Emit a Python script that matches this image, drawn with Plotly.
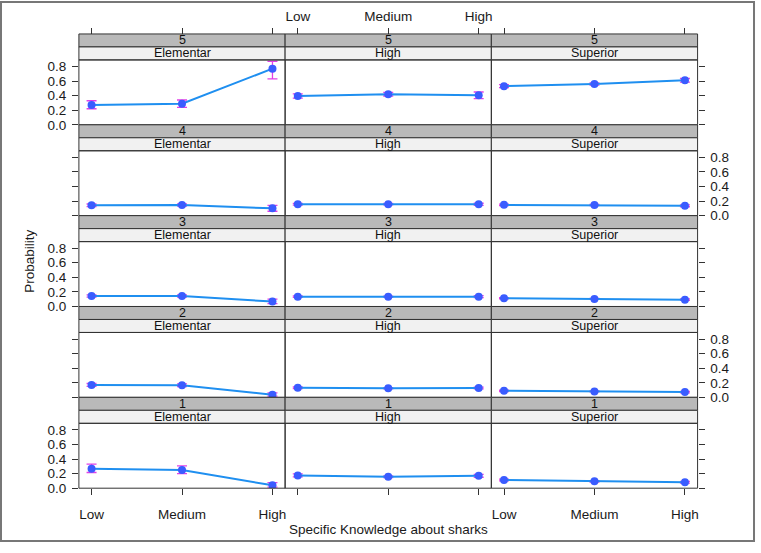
import plotly.graph_objects as go

# ---------------- data ----------------
levels = ["Low", "Medium", "High"]
education = ["Elementar", "High", "Superior"]
responses = ["5", "4", "3", "2", "1"]

# fitted probabilities per response level: rows = education (Elementar, High, Superior)
fit_5 = [[0.27, 0.29, 0.77], [0.395, 0.42, 0.405], [0.53, 0.56, 0.61]]
lo_5 = [[0.22, 0.24, 0.63], [0.365, 0.395, 0.36], [0.51, 0.545, 0.585]]
hi_5 = [[0.33, 0.34, 0.87], [0.425, 0.445, 0.45], [0.55, 0.575, 0.635]]

fit_4 = [[0.143, 0.145, 0.10], [0.157, 0.157, 0.155], [0.148, 0.145, 0.135]]
lo_4 = [[0.125, 0.13, 0.06], [0.145, 0.147, 0.14], [0.138, 0.137, 0.122]]
hi_4 = [[0.16, 0.16, 0.14], [0.168, 0.167, 0.17], [0.158, 0.153, 0.148]]

fit_3 = [[0.144, 0.144, 0.068], [0.135, 0.133, 0.135], [0.113, 0.104, 0.094]]
lo_3 = [[0.128, 0.13, 0.04], [0.125, 0.124, 0.122], [0.104, 0.097, 0.083]]
hi_3 = [[0.16, 0.158, 0.10], [0.145, 0.142, 0.148], [0.122, 0.111, 0.105]]

fit_2 = [[0.17, 0.167, 0.036], [0.131, 0.124, 0.128], [0.09, 0.081, 0.072]]
lo_2 = [[0.15, 0.148, 0.018], [0.12, 0.115, 0.115], [0.08, 0.074, 0.062]]
hi_2 = [[0.19, 0.186, 0.06], [0.142, 0.133, 0.141], [0.10, 0.088, 0.082]]

fit_1 = [[0.265, 0.25, 0.04], [0.175, 0.157, 0.17], [0.112, 0.094, 0.081]]
lo_1 = [[0.215, 0.20, 0.015], [0.155, 0.145, 0.15], [0.10, 0.085, 0.07]]
hi_1 = [[0.33, 0.305, 0.075], [0.195, 0.17, 0.19], [0.124, 0.103, 0.093]]

fits = [fit_5, fit_4, fit_3, fit_2, fit_1]
lows = [lo_5, lo_4, lo_3, lo_2, lo_1]
highs = [hi_5, hi_4, hi_3, hi_2, hi_1]

y_ticks = [0.0, 0.2, 0.4, 0.6, 0.8]

# ---------------- geometry (pixels) ----------------
W, H = 761, 553
X0, PW = 79.0, 206.5
S0, RH = 33.5, 92.35
STRIP = 13.2

FONT = "Liberation Sans, Arial, sans-serif"
FS = 13.5
LINE_COL = "#1f8ff0"
PT_COL = "#3a5cff"
CI_COL = "#e23fe6"
AX_COL = "#333333"
TXT = "#1a1a1a"


def px(x):
    return x / W


def py(y):
    return 1 - y / H


fig = go.Figure()
layout = dict(
    width=W, height=H, margin=dict(l=0, r=0, t=0, b=0),
    paper_bgcolor="white", plot_bgcolor="white", showlegend=False,
    font=dict(family=FONT, size=FS, color=TXT),
)
shapes = []
annotations = []

xrange_ = [0.86, 3.14]
yrange_ = [0.0, 0.89]
xpos = [1, 2, 3]

for r in range(5):
    top = S0 + r * RH
    ptop = top + 2 * STRIP
    pbot = top + RH
    for c in range(3):
        i = r * 3 + c + 1
        xa = "xaxis" if i == 1 else f"xaxis{i}"
        ya = "yaxis" if i == 1 else f"yaxis{i}"
        xr = "x" if i == 1 else f"x{i}"
        yr = "y" if i == 1 else f"y{i}"
        x_left = X0 + c * PW
        x_right = x_left + PW

        show_xt = (r == 4)
        layout[xa] = dict(
            domain=[px(x_left), px(x_right)], range=xrange_, anchor=yr,
            tickvals=xpos, ticktext=levels,
            ticks="outside" if show_xt else "", ticklen=6, tickcolor=AX_COL,
            showticklabels=show_xt and c != 1, ticklabelstandoff=8,
            showgrid=False, zeroline=False, showline=False,
            tickfont=dict(size=FS, family=FONT, color=TXT),
        )
        if c == 0:
            ydict = dict(side="left", ticks="outside", showticklabels=(r % 2 == 0))
        elif c == 2:
            ydict = dict(side="right", ticks="outside", showticklabels=(r % 2 == 1))
        else:
            ydict = dict(ticks="", showticklabels=False)
        layout[ya] = dict(
            domain=[py(pbot), py(ptop)], range=yrange_, anchor=xr,
            tickvals=y_ticks, tickformat=".1f", ticklen=6, tickcolor=AX_COL,
            ticklabelstandoff=3,
            showgrid=False, zeroline=False, showline=False,
            tickfont=dict(size=FS, family=FONT, color=TXT),
            **ydict,
        )

        f = fits[r][c]
        lo = lows[r][c]
        hi = highs[r][c]
        fig.add_trace(go.Scatter(
            x=xpos, y=f, xaxis=xr, yaxis=yr, mode="lines+markers",
            line=dict(color=LINE_COL, width=2),
            marker=dict(color=PT_COL, size=8),
            error_y=dict(type="data", symmetric=False,
                         array=[h - v for h, v in zip(hi, f)],
                         arrayminus=[v - l for v, l in zip(f, lo)],
                         color=CI_COL, thickness=1.3, width=5),
            hoverinfo="skip",
        ))

        # strips
        shapes.append(dict(type="rect", xref="paper", yref="paper",
                           x0=px(x_left), x1=px(x_right), y0=py(top + STRIP), y1=py(top),
                           fillcolor="#b9b9b9", line=dict(color=AX_COL, width=1), layer="above"))
        shapes.append(dict(type="rect", xref="paper", yref="paper",
                           x0=px(x_left), x1=px(x_right), y0=py(top + 2 * STRIP), y1=py(top + STRIP),
                           fillcolor="#f1f1f1", line=dict(color=AX_COL, width=1), layer="above"))
        # panel border
        shapes.append(dict(type="rect", xref="paper", yref="paper",
                           x0=px(x_left), x1=px(x_right), y0=py(pbot), y1=py(ptop),
                           fillcolor="rgba(0,0,0,0)", line=dict(color=AX_COL, width=1), layer="above"))
        annotations.append(dict(text=responses[r], xref="paper", yref="paper",
                                x=px((x_left + x_right) / 2), y=py(top + STRIP / 2),
                                showarrow=False, font=dict(size=12.5, family=FONT, color="#111"),
                                xanchor="center", yanchor="middle", borderpad=0))
        annotations.append(dict(text=education[c], xref="paper", yref="paper",
                                x=px((x_left + x_right) / 2), y=py(top + 1.5 * STRIP),
                                showarrow=False, font=dict(size=12.5, family=FONT, color="#111"),
                                xanchor="center", yanchor="middle", borderpad=0))

# top axes (above the strips of first row)
for c in range(3):
    j = 16 + c
    base = "x" if c == 0 else f"x{c + 1}"
    x_left = X0 + c * PW
    layout[f"xaxis{j}"] = dict(
        domain=[px(x_left), px(x_left + PW)], range=xrange_, overlaying=base,
        anchor="free", position=py(S0), side="top",
        tickvals=xpos, ticktext=levels, ticks="outside", ticklen=6, tickcolor=AX_COL,
        ticklabelstandoff=2,
        showticklabels=(c == 1), showgrid=False, zeroline=False, showline=False,
        tickfont=dict(size=FS, family=FONT, color=TXT),
    )
    fig.add_trace(go.Scatter(x=[2], y=[-1], xaxis=f"x{j}", yaxis="y" if c == 0 else f"y{c + 1}",
                             mode="markers", marker=dict(opacity=0), hoverinfo="skip"))

annotations.append(dict(text="Probability", xref="paper", yref="paper", x=px(30), y=py(264),
                        textangle=-90, showarrow=False, font=dict(size=FS, family=FONT, color=TXT),
                        xanchor="center", yanchor="middle"))
annotations.append(dict(text="Specific Knowledge about sharks", xref="paper", yref="paper",
                        x=px(389), y=py(537), showarrow=False,
                        font=dict(size=FS, family=FONT, color=TXT),
                        xanchor="center", yanchor="middle"))

# outer frame
shapes.append(dict(type="rect", xref="paper", yref="paper", x0=px(1), x1=px(755), y0=py(549), y1=py(1),
                   line=dict(color="#777777", width=2), fillcolor="rgba(0,0,0,0)", layer="above"))

layout["shapes"] = shapes
layout["annotations"] = annotations
fig.update_layout(**layout)
fig.write_html("out.html")
